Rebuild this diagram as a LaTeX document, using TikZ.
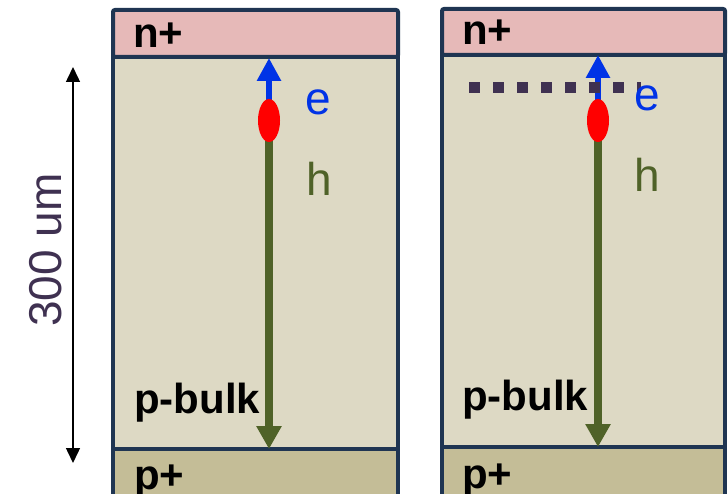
\documentclass[tikz,border=0pt]{standalone}
\usepackage{fontspec}
\setmainfont{Liberation Sans}
\usetikzlibrary{arrows.meta,shapes.geometric}
\definecolor{nfill}{HTML}{E6B9B8}
\definecolor{bulkfill}{HTML}{DDD9C4}
\definecolor{pfill}{HTML}{C4BD97}
\definecolor{bordercol}{HTML}{1F3552}
\definecolor{eblue}{RGB}{0,51,230}
\definecolor{hgreen}{HTML}{4F6228}
\definecolor{dimcol}{HTML}{3F3151}
\tikzset{
  region/.style={draw=bordercol, line width=4pt, inner sep=0pt, outer sep=0pt, anchor=north west},
  boldlbl/.style={font=\fontsize{42}{46}\selectfont\bfseries, text=black, anchor=base west, inner sep=0pt},
  elbl/.style={font=\fontsize{46}{50}\selectfont, text=eblue, anchor=base west, inner sep=0pt},
  hlbl/.style={font=\fontsize{46}{50}\selectfont, text=hgreen, anchor=base west, inner sep=0pt},
  carrier/.style={ellipse, fill=red, minimum width=22pt, minimum height=43pt, inner sep=0pt, outer sep=0pt},
  earrow/.style={draw=eblue, line width=6pt, -{Triangle[length=23pt,width=23pt]}},
  harrow/.style={draw=hgreen, line width=8pt, -{Triangle[length=23pt,width=24pt]}},
  dimarrow/.style={draw=black, line width=1.5pt, {Triangle[length=15pt,width=14pt]}-{Triangle[length=15pt,width=14pt]}},
  trapline/.style={draw=dimcol, line width=11pt, dash pattern=on 11pt off 13pt}
}
\begin{document}
\begin{tikzpicture}[x=1pt,y=-1pt]
\useasboundingbox (0,0) rectangle (728,494);
\clip (0,0) rectangle (728,494);
% left detector
\node[region, fill=bulkfill, minimum width=285pt, minimum height=392pt] (Lb) at (113,57) {};
\node[region, fill=pfill, minimum width=285pt, minimum height=80pt] (Lp) at (113,449) {};
\node[region, fill=nfill, minimum width=285pt, minimum height=47pt, rounded corners=2pt] (Ln) at (113,10) {};
% right detector
\node[region, fill=bulkfill, minimum width=283pt, minimum height=392pt] (Rb) at (442,55) {};
\node[region, fill=pfill, minimum width=283pt, minimum height=80pt] (Rp) at (442,447) {};
\node[region, fill=nfill, minimum width=283pt, minimum height=46pt, rounded corners=2pt] (Rn) at (442,9) {};
% labels
\node[boldlbl] (Lntxt) at (133,48) {n+};
\node[boldlbl] (Rntxt) at (462,45) {n+};
\node[boldlbl] (Lbtxt) at (134,413) {p-bulk};
\node[boldlbl] (Rbtxt) at (462,410) {p-bulk};
\node[boldlbl] (Lptxt) at (134,489) {p+};
\node[boldlbl] (Rptxt) at (462,488) {p+};
% carriers left
\coordinate (Ltop) at (269,58);
\coordinate (Lbot) at (269,449);
\coordinate (Lc) at (269,120.5);
\draw[harrow] (Lc) -- (Lbot);
\draw[earrow] (Lc) -- (Ltop);
\node[carrier] (Lh) at (Lc) {};
\node[elbl] (Le) at (305,115) {e};
\node[hlbl] (Lhl) at (306,196) {h};
% carriers right
\coordinate (Rtop) at (598,55);
\coordinate (Rbot) at (598,447);
\coordinate (Rc) at (598,120.5);
\draw[harrow] (Rc) -- (Rbot);
\draw[earrow] (Rc) -- (Rtop);
\coordinate (Ts) at (469,87.5);
\coordinate (Te) at (641,87.5);
\draw[trapline] (Ts) -- (Te);
\node[carrier] (Rh) at (Rc) {};
\node[elbl] (Re) at (634,111) {e};
\node[hlbl] (Rhl) at (634,192) {h};
% dimension
\coordinate (Dt) at (73,67);
\coordinate (Db) at (73,463);
\draw[dimarrow] (Dt) -- (Db);
\node[rotate=90, font=\fontsize{46}{50}\selectfont, text=dimcol, inner sep=0pt] (dim) at (46,250) {300 um};
\end{tikzpicture}
\end{document}
